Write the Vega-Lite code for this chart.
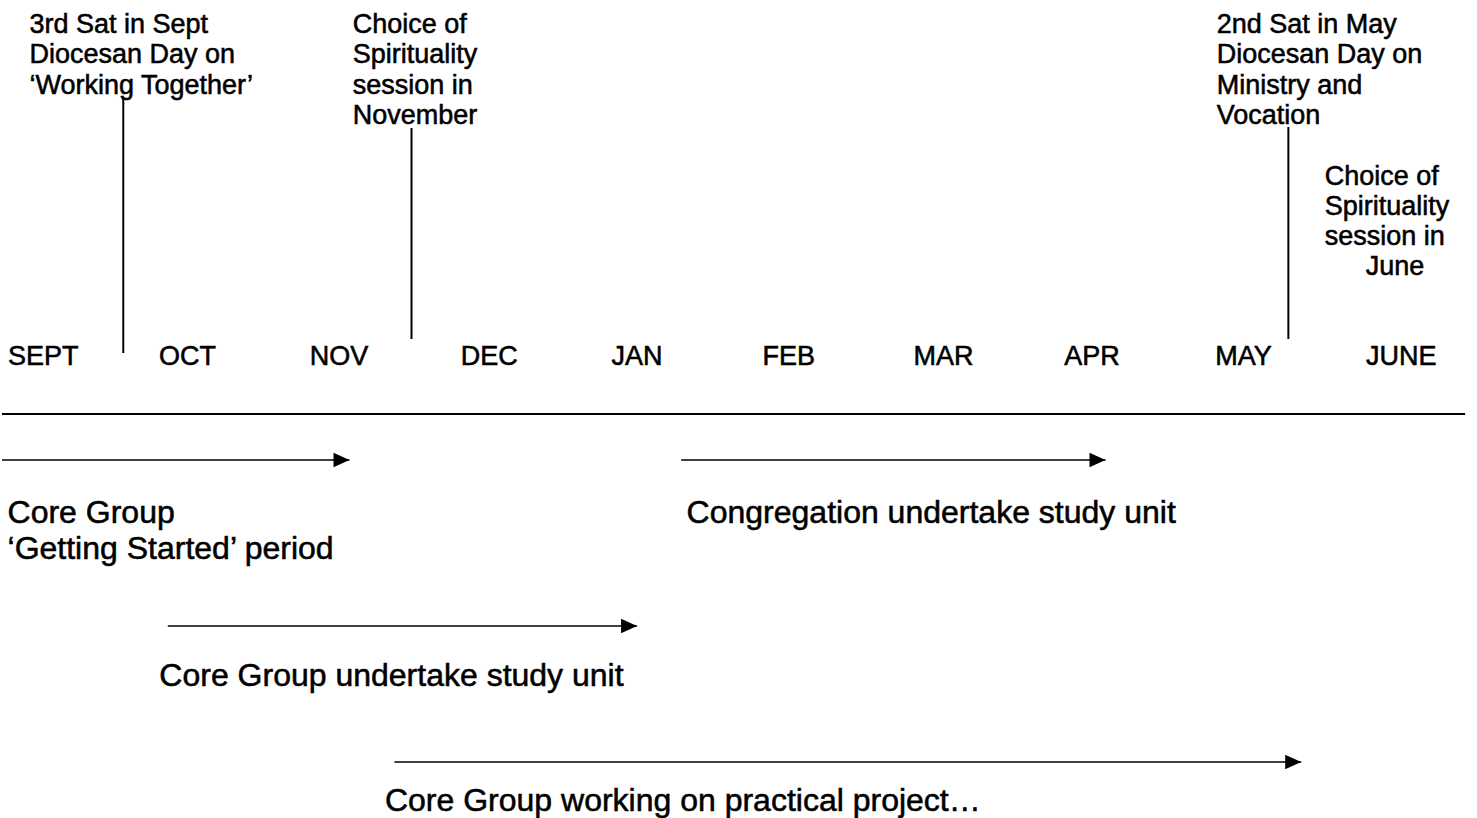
{
  "$schema": "https://vega.github.io/schema/vega-lite/v6.json",
  "width": 1477,
  "height": 818,
  "autosize": {"type": "fit", "contains": "padding"},
  "padding": 0,
  "background": "white",
  "config": {"view": {"stroke": null}, "text": {"font": "Liberation Sans", "color": "black", "stroke": "black", "strokeWidth": 0.55}},
  "datasets": {
    "months": [
      {"m": "SEPT", "i": 0}, {"m": "OCT", "i": 1}, {"m": "NOV", "i": 2}, {"m": "DEC", "i": 3},
      {"m": "JAN", "i": 4}, {"m": "FEB", "i": 5}, {"m": "MAR", "i": 6}, {"m": "APR", "i": 7},
      {"m": "MAY", "i": 8}, {"m": "JUNE", "i": 9}
    ],
    "notes": [
      {"t": "3rd Sat in Sept", "x": 0.142, "y": 25},
      {"t": "Diocesan Day on", "x": 0.142, "y": 55},
      {"t": "‘Working Together’", "x": 0.142, "y": 86},
      {"t": "Choice of", "x": 2.285, "y": 25},
      {"t": "Spirituality", "x": 2.285, "y": 55},
      {"t": "session in", "x": 2.285, "y": 86},
      {"t": "November", "x": 2.285, "y": 116},
      {"t": "2nd Sat in May", "x": 8.01, "y": 25},
      {"t": "Diocesan Day on", "x": 8.01, "y": 55},
      {"t": "Ministry and", "x": 8.01, "y": 86},
      {"t": "Vocation", "x": 8.01, "y": 116},
      {"t": "Choice of", "x": 8.726, "y": 177},
      {"t": "Spirituality", "x": 8.726, "y": 207},
      {"t": "session in", "x": 8.726, "y": 237},
      {"t": "June", "x": 8.997, "y": 267}
    ],
    "markers": [
      {"x": 0.764, "y1": 97, "y2": 353},
      {"x": 2.674, "y1": 128, "y2": 339},
      {"x": 8.485, "y1": 127, "y2": 339}
    ],
    "timeline": [{"x1": -0.0397, "x2": 9.656, "y": 414}],
    "arrows": [
      {"x1": -0.0397, "x2": 2.263, "y": 460},
      {"x1": 4.461, "x2": 7.273, "y": 460},
      {"x1": 1.059, "x2": 4.169, "y": 626},
      {"x1": 2.561, "x2": 8.57, "y": 762}
    ],
    "captions": [
      {"t": "Core Group", "x": -0.003, "y": 513},
      {"t": "‘Getting Started’ period", "x": -0.003, "y": 549},
      {"t": "Congregation undertake study unit", "x": 4.497, "y": 513},
      {"t": "Core Group undertake study unit", "x": 1.003, "y": 676},
      {"t": "Core Group working on practical project…", "x": 2.498, "y": 801}
    ]
  },
  "resolve": {"scale": {"x": "shared", "y": "shared"}},
  "layer": [
    {
      "data": {"name": "timeline"},
      "mark": {"type": "rule", "strokeWidth": 2.2, "color": "black"},
      "encoding": {
        "x": {"field": "x1", "type": "quantitative", "scale": {"domain": [-0.0397, 9.735], "nice": false, "zero": false}, "axis": null},
        "x2": {"field": "x2"},
        "y": {"field": "y", "type": "quantitative", "scale": {"domain": [0, 818], "reverse": true, "nice": false, "zero": false}, "axis": null}
      }
    },
    {
      "data": {"name": "markers"},
      "mark": {"type": "rule", "strokeWidth": 2, "color": "black"},
      "encoding": {
        "x": {"field": "x", "type": "quantitative"},
        "y": {"field": "y1", "type": "quantitative"},
        "y2": {"field": "y2"}
      }
    },
    {
      "data": {"name": "arrows"},
      "mark": {"type": "rule", "strokeWidth": 1.6, "color": "black"},
      "encoding": {
        "x": {"field": "x1", "type": "quantitative"},
        "x2": {"field": "x2"},
        "y": {"field": "y", "type": "quantitative"}
      }
    },
    {
      "data": {"name": "arrows"},
      "mark": {"type": "point", "filled": true, "opacity": 1, "color": "black", "shape": "M-2,-0.9L0,0L-2,0.9Z", "size": 256, "strokeWidth": 0},
      "encoding": {
        "x": {"field": "x2", "type": "quantitative"},
        "y": {"field": "y", "type": "quantitative"}
      }
    },
    {
      "data": {"name": "months"},
      "mark": {"type": "text", "fontSize": 27, "align": "left", "baseline": "middle"},
      "encoding": {
        "x": {"field": "i", "type": "quantitative"},
        "y": {"datum": 357, "type": "quantitative"},
        "text": {"field": "m"}
      }
    },
    {
      "data": {"name": "notes"},
      "mark": {"type": "text", "fontSize": 27, "align": "left", "baseline": "middle"},
      "encoding": {
        "x": {"field": "x", "type": "quantitative"},
        "y": {"field": "y", "type": "quantitative"},
        "text": {"field": "t"}
      }
    },
    {
      "data": {"name": "captions"},
      "mark": {"type": "text", "fontSize": 32, "align": "left", "baseline": "middle"},
      "encoding": {
        "x": {"field": "x", "type": "quantitative"},
        "y": {"field": "y", "type": "quantitative"},
        "text": {"field": "t"}
      }
    }
  ]
}
